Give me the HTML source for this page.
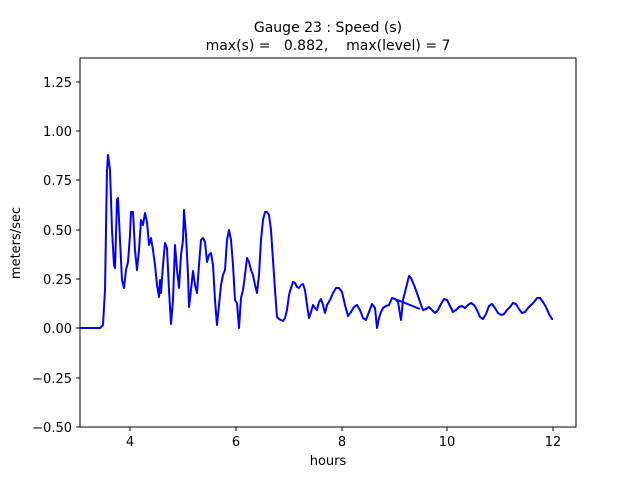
<!DOCTYPE html>
<html><head><meta charset="utf-8"><style>body{margin:0;background:#fff}</style></head><body>
<svg width="640" height="480" xmlns="http://www.w3.org/2000/svg" font-family="DejaVu Sans, Liberation Sans, sans-serif">
<rect width="640" height="480" fill="#fff"/>
<g font-size="14" text-anchor="middle" fill="#000">
<text x="328" y="32">Gauge 23 : Speed (s)</text>
<text x="328" y="50" xml:space="preserve">max(s) =   0.882,    max(level) = 7</text>
</g>
<polyline fill="none" stroke="#0000ff" stroke-width="2" stroke-linejoin="round" points="80,328 100,328 103,325 105,290 107,170 108,155 110,170 112,230 114,265 115,268 117,200 118,198 120,240 122,280 124,288 126,270 128,262 130,235 131,212 133,212 135,250 136,260 137,270 139,250 141,220 143,225 145,213 147,222 149,245 151,238 153,250 155,265 157,285 159,297 160,280 161,293 163,265 165,243 167,248 169,290 171,324 173,300 175,245 177,270 179,288 181,255 183,240 184,210 186,235 188,275 189,307 191,290 193,271 195,285 197,293 199,265 201,240 203,238 205,242 207,262 209,255 211,253 213,265 215,300 217,325 219,305 221,285 223,275 225,270 227,240 229,230 231,240 233,265 235,300 237,303 239,328 241,298 243,290 245,275 247,258 249,262 251,270 253,275 255,285 257,293 259,275 261,240 263,220 265,212 267,212 269,215 271,230 273,260 275,290 277,317 279,319 281,320 283,321 285,318 287,310 289,295 291,288 293,282 295,283 297,287 299,288 301,285 303,284 305,290 307,305 309,318 311,312 313,305 315,308 317,310 319,302 321,299 323,305 325,313 327,305 330,300 333,293 336,288 339,288 342,292 345,305 348,316 351,312 354,307 357,305 360,310 363,318 366,320 369,312 372,304 375,308 377,328 379,318 381,312 383,308 386,306 389,305 392,298 395,299 398,302 401,320 403,300 406,288 409,276 411,278 414,285 417,293 420,302 423,310 426,309 429,307 432,310 435,313 438,310 441,304 444,299 447,300 450,306 453,312 456,310 459,307 462,306 465,308 468,305 471,303 474,305 477,310 480,317 483,319 486,314 489,306 492,304 495,308 498,313 501,315 504,314 507,310 510,307 513,303 516,304 519,309 522,313 525,312 528,308 531,305 534,302 537,298 540,298 543,302 546,307 549,314 552,319 553,319"/>
<line x1="395" y1="299" x2="420" y2="309" stroke="#0000ff" stroke-width="2"/>
<rect x="80" y="58" width="496" height="369" fill="none" stroke="#000" stroke-width="1"/>
<g stroke="#000" stroke-width="1">
<line x1="130" y1="427" x2="130" y2="431"/><line x1="236" y1="427" x2="236" y2="431"/><line x1="342" y1="427" x2="342" y2="431"/><line x1="447" y1="427" x2="447" y2="431"/><line x1="553" y1="427" x2="553" y2="431"/>
<line x1="76" y1="427" x2="80" y2="427"/><line x1="76" y1="378" x2="80" y2="378"/><line x1="76" y1="328" x2="80" y2="328"/><line x1="76" y1="279" x2="80" y2="279"/><line x1="76" y1="230" x2="80" y2="230"/><line x1="76" y1="180" x2="80" y2="180"/><line x1="76" y1="131" x2="80" y2="131"/><line x1="76" y1="82" x2="80" y2="82"/>
</g>
<g font-size="13" text-anchor="middle" fill="#000">
<text x="130" y="446">4</text><text x="236" y="446">6</text><text x="342" y="446">8</text><text x="447" y="446">10</text><text x="553" y="446">12</text>
<text x="328" y="465">hours</text>
</g>
<g font-size="13" text-anchor="end" fill="#000">
<text x="72" y="432">−0.50</text><text x="72" y="383">−0.25</text><text x="72" y="333">0.00</text><text x="72" y="284">0.25</text><text x="72" y="235">0.50</text><text x="72" y="185">0.75</text><text x="72" y="136">1.00</text><text x="72" y="87">1.25</text>
</g>
<text x="20" y="243" font-size="13" text-anchor="middle" transform="rotate(-90 20 243)">meters/sec</text>
</svg>
</body></html>
